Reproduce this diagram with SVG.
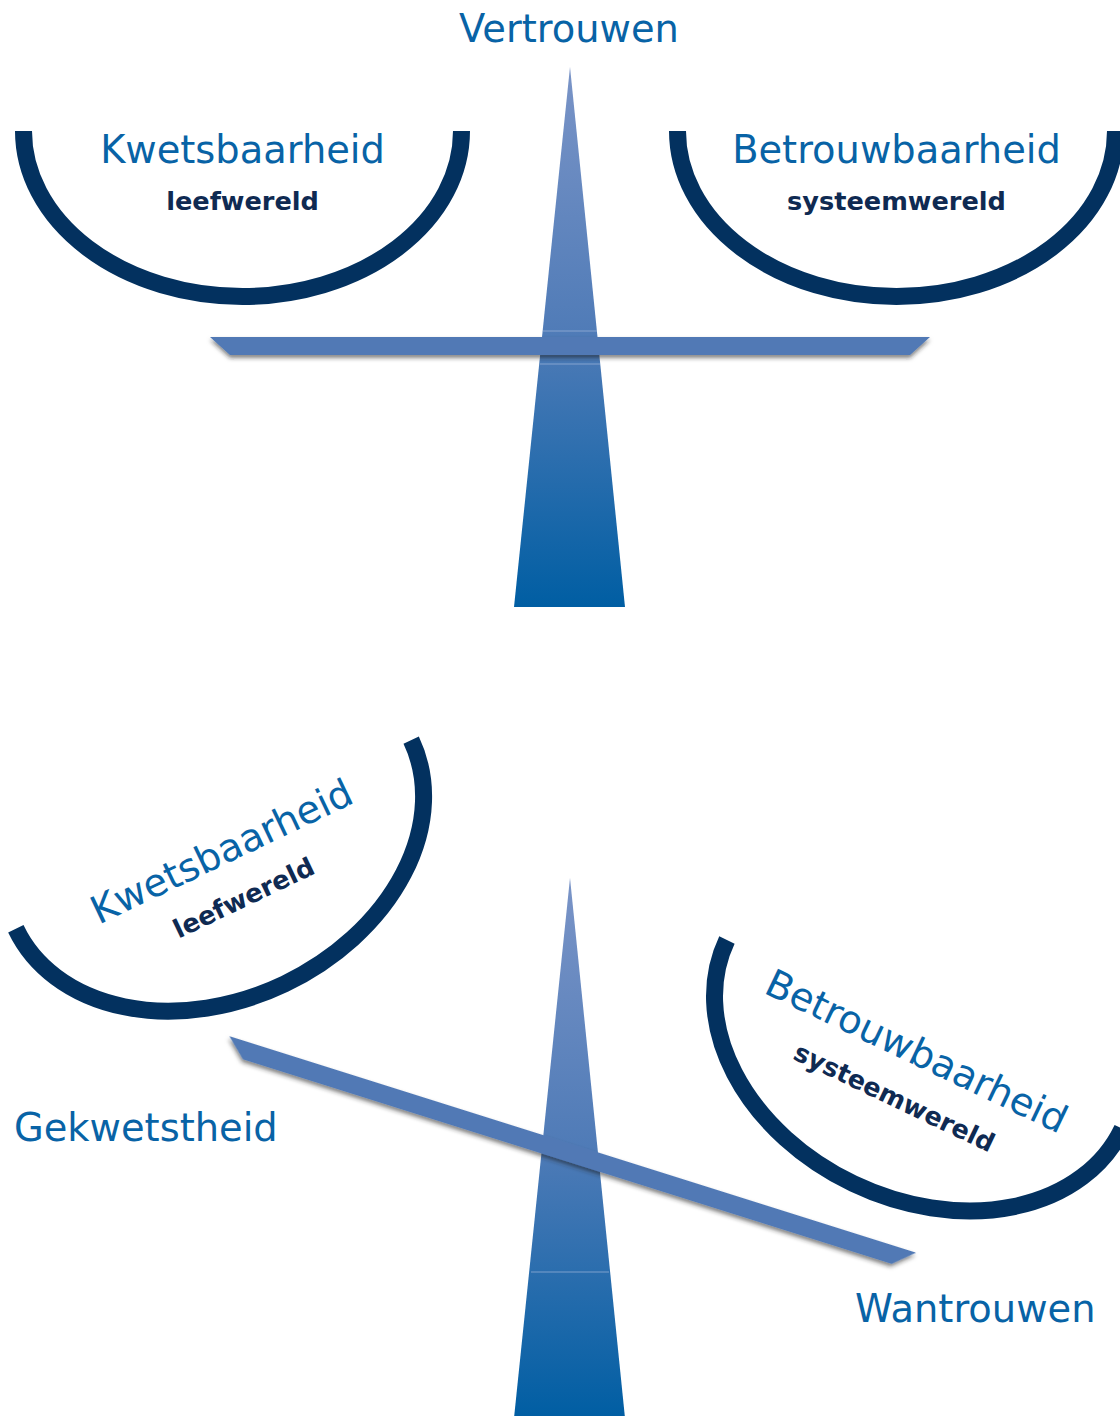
<svg xmlns="http://www.w3.org/2000/svg" width="1120" height="1416" viewBox="0 0 1120 1416">
<style>
.lbl{font-family:"DejaVu Sans",Verdana,sans-serif;font-size:38.4px;fill:#0863a6;text-anchor:middle}
.sub{font-family:"DejaVu Sans",Verdana,sans-serif;font-size:25.6px;font-weight:bold;fill:#0f2a52;text-anchor:middle}
.bowl{fill:none;stroke:#03315f;stroke-width:17}
.beam{fill:#5179b5}
.seam{stroke:#9fb6da;stroke-width:1;opacity:0.7}
</style>
<defs>
<linearGradient id="pg" x1="0" y1="0" x2="0" y2="1">
<stop offset="0" stop-color="#7a94c7"/>
<stop offset="0.5" stop-color="#4f7bb7"/>
<stop offset="1" stop-color="#005ea3"/>
</linearGradient>
<filter id="sh" x="-5%" y="-50%" width="110%" height="250%">
<feDropShadow dx="0" dy="3" stdDeviation="2" flood-color="#222" flood-opacity="0.55"/>
</filter>
<path id="bowlpath" d="M -219 0 A 219 165.5 0 0 0 219 0"/>
</defs>

<g id="scale-balanced">
<g id="pillar-top">
<polygon points="570,67 625,607 514,607" fill="url(#pg)"/>
<line class="seam" x1="543" y1="331" x2="597" y2="331"/>
<line class="seam" x1="540" y1="364" x2="600" y2="364"/>
</g>
<g id="beam-top">
<polygon class="beam" points="210,337 930,337 910,355 230,355" filter="url(#sh)"/>
</g>
<g id="bowl-top-left" transform="translate(242.5,131)">
<use href="#bowlpath" class="bowl"/>
<text class="lbl" x="0" y="32">Kwetsbaarheid</text>
<text class="sub" x="0" y="79">leefwereld</text>
</g>
<g id="bowl-top-right" transform="translate(896.5,131)">
<use href="#bowlpath" class="bowl"/>
<text class="lbl" x="0" y="32">Betrouwbaarheid</text>
<text class="sub" x="0" y="79">systeemwereld</text>
</g>
<g id="label-vertrouwen">
<text class="lbl" x="569" y="42">Vertrouwen</text>
</g>
</g>

<g id="scale-tilted">
<g id="pillar-bottom">
<polygon points="570,878 625,1418 514,1418" fill="url(#pg)"/>
<line class="seam" x1="531" y1="1272" x2="609" y2="1272"/>
</g>
<g id="beam-bottom">
<polygon class="beam" points="210,1144 930,1144 910,1162 230,1162" transform="rotate(17.5 570 1153)" filter="url(#sh)"/>
</g>
<g id="bowl-bottom-left" transform="translate(213.5,834.5) rotate(-25.5)">
<use href="#bowlpath" class="bowl"/>
<text class="lbl" x="0" y="32">Kwetsbaarheid</text>
<text class="sub" x="0" y="79">leefwereld</text>
</g>
<g id="bowl-bottom-right" transform="translate(924.6,1034.3) rotate(25.5)">
<use href="#bowlpath" class="bowl"/>
<text class="lbl" x="0" y="32">Betrouwbaarheid</text>
<text class="sub" x="0" y="79">systeemwereld</text>
</g>
<g id="label-gekwetstheid">
<text class="lbl" x="14" y="1141" style="text-anchor:start">Gekwetstheid</text>
</g>
<g id="label-wantrouwen">
<text class="lbl" x="855" y="1322" style="text-anchor:start">Wantrouwen</text>
</g>
</g>
</svg>
